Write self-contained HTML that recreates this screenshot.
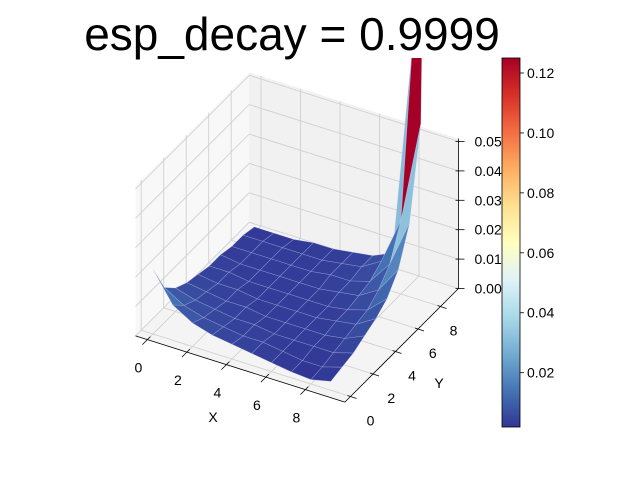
<!DOCTYPE html>
<html><head><meta charset="utf-8"><style>
html,body{margin:0;padding:0;background:#fff;}
svg{display:block;font-family:"Liberation Sans","DejaVu Sans",sans-serif;}
</style></head><body>
<svg id="chart" width="640" height="480" viewBox="0 0 640 480">
<defs>
<clipPath id="axclip"><rect x="0" y="58" width="640" height="422"/></clipPath>
<linearGradient id="cbgrad" x1="0" y1="1" x2="0" y2="0">
<stop offset="0" stop-color="#313695"/><stop offset="0.1" stop-color="#4575b4"/><stop offset="0.2" stop-color="#74add1"/><stop offset="0.3" stop-color="#abd9e9"/><stop offset="0.4" stop-color="#e0f3f8"/><stop offset="0.5" stop-color="#ffffbf"/><stop offset="0.6" stop-color="#fee090"/><stop offset="0.7" stop-color="#fdae61"/><stop offset="0.8" stop-color="#f46d43"/><stop offset="0.9" stop-color="#d73027"/><stop offset="1" stop-color="#a50026"/>
</linearGradient>
</defs>
<text x="292" y="50" font-size="46" text-anchor="middle" fill="#000">esp_decay = 0.9999</text>
<g id="panes"></g>
<g id="surface" clip-path="url(#axclip)"></g>
<g id="axes"></g>
<g id="cbar"></g>
</svg>
<script>
const xVals = [0,1,2,3,4,5,6,7,8,9];
const yVals = [0,1,2,3,4,5,6,7,8,9];
const zRows = [
[0.022,0.012,0.008,0.006,0.005,0.004,0.003,0.002,0.0015,0.003],
[0.012,0.008,0.006,0.005,0.004,0.004,0.003,0.002,0.002,0.004],
[0.008,0.006,0.005,0.004,0.004,0.003,0.003,0.003,0.003,0.005],
[0.006,0.005,0.004,0.004,0.003,0.003,0.003,0.003,0.004,0.007],
[0.005,0.004,0.004,0.003,0.003,0.003,0.003,0.004,0.005,0.009],
[0.004,0.004,0.003,0.003,0.003,0.003,0.003,0.004,0.006,0.012],
[0.004,0.003,0.003,0.003,0.003,0.003,0.004,0.005,0.009,0.018],
[0.003,0.003,0.003,0.003,0.003,0.004,0.004,0.006,0.014,0.030],
[0.003,0.003,0.003,0.003,0.003,0.004,0.005,0.009,0.025,0.060],
[0.002,0.002,0.002,0.003,0.003,0.004,0.005,0.008,0.080,0.335]
];
const xTicks = [0,2,4,6,8];
const yTicks = [0,2,4,6,8];
const zTicks = [0,0.01,0.02,0.03,0.04,0.05];
const zTickLabels = ["0.00","0.01","0.02","0.03","0.04","0.05"];
const cbTicks = [0.02,0.04,0.06,0.08,0.10,0.12];
const cbTickLabels = ["0.02","0.04","0.06","0.08","0.10","0.12"];

const NS="http://www.w3.org/2000/svg";
const X0=-0.6,X1=10,Y0=-0.5,Y1=9.6,Z0=0,Z1=0.051;
function S(x,y,z){return [153+19.75*x+11.25*y, 334+6.25*x-11.25*y-2940*z];}
function mk(tag,attrs,parent){const e=document.createElementNS(NS,tag);for(const k in attrs)e.setAttribute(k,attrs[k]);parent.appendChild(e);return e;}
function pts(a){return a.map(p=>p[0].toFixed(1)+","+p[1].toFixed(1)).join(" ");}
const stops=[[0,[49,54,149]],[0.1,[69,117,180]],[0.2,[116,173,209]],[0.3,[171,217,233]],[0.4,[224,243,248]],[0.5,[255,255,191]],[0.6,[254,224,144]],[0.7,[253,174,97]],[0.8,[244,109,67]],[0.9,[215,48,39]],[1,[165,0,38]]];
function cmap(t){t=Math.max(0,Math.min(1,t));for(let i=1;i<stops.length;i++){if(t<=stops[i][0]){const a=stops[i-1],b=stops[i];const f=(t-a[0])/(b[0]-a[0]);const c=a[1].map((v,k)=>Math.round(v+(b[1][k]-v)*f));return "rgb("+c.join(",")+")";}}return "rgb(165,0,38)";}

const panes=document.getElementById('panes');
let e;
e=mk('polygon',{points:pts([S(X0,Y0,Z0),S(X1,Y0,Z0),S(X1,Y1,Z0),S(X0,Y1,Z0)]),fill:'#f4f4f4'},panes);

e=mk('polygon',{points:pts([S(X0,Y0,Z0),S(X0,Y1,Z0),S(X0,Y1,Z1),S(X0,Y0,Z1)]),fill:'#f8f8f8'},panes);

e=mk('polygon',{points:pts([S(X0,Y1,Z0),S(X1,Y1,Z0),S(X1,Y1,Z1),S(X0,Y1,Z1)]),fill:'#f1f1f1'},panes);

const gs={stroke:'#d0d0d0','stroke-width':0.9,fill:'none'};
xTicks.forEach(t=>{
 e=mk('polyline',Object.assign({points:pts([S(t,Y0,Z0),S(t,Y1,Z0),S(t,Y1,Z1)])},gs),panes);
 
});
yTicks.forEach(t=>{
 e=mk('polyline',Object.assign({points:pts([S(X1,t,Z0),S(X0,t,Z0),S(X0,t,Z1)])},gs),panes);
 
});
zTicks.forEach(t=>{
 e=mk('polyline',Object.assign({points:pts([S(X0,Y0,t),S(X0,Y1,t),S(X1,Y1,t)])},gs),panes);
 
});

const cells=[];
for(let j=0;j<yVals.length-1;j++)for(let i=0;i<xVals.length-1;i++){
 const avg=(zRows[j][i]+zRows[j][i+1]+zRows[j+1][i]+zRows[j+1][i+1])/4;
 cells.push({i,j,avg,depth:(xVals[i]+0.5)-(yVals[j]+0.5)});
}
const vmin=Math.min(...cells.map(c=>c.avg)),vmax=Math.max(...cells.map(c=>c.avg));
cells.sort((a,b)=>a.depth-b.depth||a.avg-b.avg);
const surf=document.getElementById('surface');
cells.forEach(c=>{
 const i=c.i,j=c.j;
 const p=[S(xVals[i],yVals[j],zRows[j][i]),S(xVals[i+1],yVals[j],zRows[j][i+1]),S(xVals[i+1],yVals[j+1],zRows[j+1][i+1]),S(xVals[i],yVals[j+1],zRows[j+1][i])];
 const col=cmap((c.avg-vmin)/(vmax-vmin));
 const el=mk('polygon',{points:pts(p),fill:col,stroke:'rgba(200,210,255,0.35)','stroke-width':0.6},surf);
 
 
});

const ax=document.getElementById('axes');
function line(a,b,name,w){const l=mk('line',{x1:a[0],y1:a[1],x2:b[0],y2:b[1],stroke:'#000','stroke-width':w||0.8},ax);}
function txt(x,y,s,name,anchor,size){const t=mk('text',{x:x,y:y,'font-size':size||14,'text-anchor':anchor||'middle',fill:'#000'},ax);t.textContent=s;}
line(S(X0,Y0,Z0),S(X1,Y0,Z0),'x-axis-line');
line(S(X1,Y0,Z0),S(X1,Y1,Z0),'y-axis-line');
line(S(X1,Y1,Z0),S(X1,Y1,Z1),'z-axis-line');
xTicks.forEach(t=>{const a=S(t,Y0,Z0);line([a[0]+3,a[1]-3],[a[0]-5,a[1]+5],'x-tick');txt(a[0]-9,a[1]+33,String(t),'x-tick-label');});
yTicks.forEach(t=>{const a=S(X1,t,Z0);line([a[0]-3,a[1]-1],[a[0]+6,a[1]+2],'y-tick');const dx=20-7*t/8;txt(a[0]+dx,a[1]+29,String(t),'y-tick-label');});
zTicks.forEach((t,k)=>{const a=S(X1,Y1,t);line([a[0]-3,a[1]],[a[0]+6,a[1]],'z-tick');txt(a[0]+16,a[1]+5,zTickLabels[k],'z-tick-label','start');});
txt(213,422,'X','x-axis-title');
txt(439,388,'Y','y-axis-title');

const cb=document.getElementById('cbar');
const cbTop=58,cbBot=427,cbX=502,cbW=18;
const cbMin=vmin,cbMax=vmax;
function cbY(v){return cbBot-(v-cbMin)/(cbMax-cbMin)*(cbBot-cbTop);}
e=mk('rect',{x:cbX,y:cbTop,width:cbW,height:cbBot-cbTop,fill:'url(#cbgrad)',stroke:'#000','stroke-width':0.8},cb);

cbTicks.forEach((v,k)=>{const y=cbY(v);
 const l=mk('line',{x1:cbX+cbW,y1:y,x2:cbX+cbW+4,y2:y,stroke:'#000','stroke-width':0.8},cb);
 
 const t=mk('text',{x:cbX+cbW+7,y:y+5,'font-size':14,fill:'#000'},cb);t.textContent=cbTickLabels[k];
 
});
</script>
</body></html>
